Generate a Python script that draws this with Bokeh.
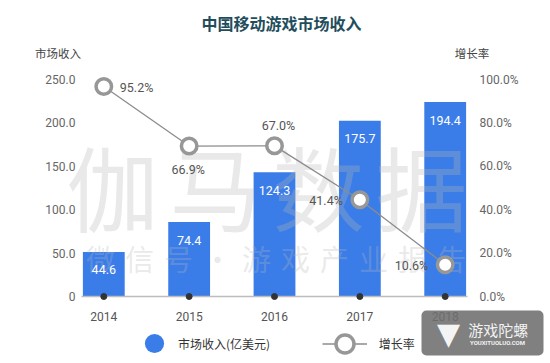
from bokeh.plotting import figure
from bokeh.models import (Range1d, LinearAxis, FixedTicker, CustomJSTickFormatter,
                          ColumnDataSource, Label, Legend, LegendItem, BoxAnnotation)
from bokeh.embed import file_html
from bokeh.resources import INLINE
from bokeh.core.properties import value

# ---------------- data ----------------
years = ["2014", "2015", "2016", "2017", "2018"]
revenue = [44.6, 74.4, 124.3, 175.7, 194.4]          # 市场收入(亿美元)
growth = [95.2, 66.9, 67.0, 41.4, 10.6]              # 增长率 (%)
revenue_ticks = [0, 50, 100, 150, 200, 250]
growth_ticks = [0, 20, 40, 60, 80, 100]
growth_label_side = ["right", "below", "above", "left", "left"]

title_text = "中国移动游戏市场收入"
left_title = "市场收入"
right_title = "增长率"
bar_legend = "市场收入(亿美元)"
line_legend = "增长率"
mark_big = "伽马数据"
mark_small = "微信号·游戏产业报告"

# ---------------- style / layout ----------------
CJK = "Noto Sans CJK SC"
NUM = "Roboto"
BAR = "#3a7de9"
W, H = 546, 361
PLOT_L, PLOT_R = 81, 467          # extent of the plotting area (px)
BASE = 296                        # baseline (px from top)
STEP = 85.35                      # px per category
FIRST = 103.3                     # px of first category centre
REV_PX = 217 / 250                # axis px per revenue tick unit
GR_PX = 217 / 100                 # axis px per growth tick unit

x_pos = list(range(len(years)))
x0 = -FIRST / STEP
x1 = x0 + W / STEP
xl = (PLOT_L - FIRST) / STEP
xr = (PLOT_R - FIRST) / STEP

p = figure(width=W, height=H, output_backend="svg", toolbar_location=None,
           x_range=Range1d(x0, x1), y_range=Range1d(-(H - BASE), BASE),
           x_axis_location=None, y_axis_location=None, min_border=0)
p.outline_line_color = None
p.background_fill_color = "white"
p.border_fill_color = "white"
for g in p.grid:
    g.visible = False
p.extra_y_ranges = {
    "rev_axis": Range1d(-(H - BASE) / REV_PX, BASE / REV_PX),
    "growth_axis": Range1d(-(H - BASE) / GR_PX, BASE / GR_PX),
    "growth": Range1d((-(H - BASE) - 9.5) / 2.107, (BASE - 9.5) / 2.107),
}

def style_axis(ax, standoff, color="#666666"):
    ax.axis_line_color = None
    ax.major_tick_line_color = None
    ax.minor_tick_line_color = None
    ax.major_tick_out = 0
    ax.major_tick_in = 0
    ax.minor_tick_out = 0
    ax.major_label_standoff = standoff
    ax.major_label_text_font = NUM
    ax.major_label_text_font_size = "12px"
    ax.major_label_text_color = color

left_ax = LinearAxis(y_range_name="rev_axis", ticker=FixedTicker(ticks=revenue_ticks),
                     fixed_location=xl,
                     formatter=CustomJSTickFormatter(code="return tick == 0 ? '0' : tick.toFixed(1);"))
style_axis(left_ax, 6)
p.add_layout(left_ax, "left")

right_ax = LinearAxis(y_range_name="growth_axis", ticker=FixedTicker(ticks=growth_ticks),
                      fixed_location=xr,
                      formatter=CustomJSTickFormatter(code="return tick.toFixed(1) + '%';"))
style_axis(right_ax, 12)
p.add_layout(right_ax, "right")

bottom_ax = LinearAxis(ticker=FixedTicker(ticks=x_pos), fixed_location=0, bounds=(xl, xr),
                       major_label_overrides={i: y for i, y in enumerate(years)})
style_axis(bottom_ax, 15, "#555555")
bottom_ax.axis_line_color = "#bdbdbd"
bottom_ax.axis_line_width = 1.5
p.add_layout(bottom_ax, "below")

# bars
p.vbar(x=x_pos, top=revenue, width=0.49, fill_color=BAR, line_color=None)

# watermarks (between bars and overlays)
for i, ch in enumerate(mark_big):
    p.add_layout(Label(x=112 + i * 103, y=184, x_units="canvas", y_units="canvas",
                       text=ch, text_align="center", text_baseline="middle",
                       text_font=CJK, text_font_size="92px", text_color="#b5b5b5",
                       text_alpha=0.3, level="glyph"), "center")
for i, ch in enumerate(mark_small):
    p.add_layout(Label(x=100 + i * 39, y=257, x_units="canvas", y_units="canvas",
                       text=ch, text_align="center", text_baseline="middle",
                       text_font=CJK, text_font_size="29px", text_color="#b5b5b5",
                       text_alpha=0.3, level="glyph"), "center")

# bar values
p.text(x=x_pos, y=revenue, text=[f"{v:.1f}" for v in revenue], text_color="white",
       text_align="center", text_baseline="middle", y_offset=18,
       text_font=value(NUM), text_font_size="12.5px", level="annotation")

# baseline dots
p.scatter(x=x_pos, y=[0] * len(x_pos), size=6, color="#333333", level="annotation")

# growth line
g_line = p.line(x=x_pos, y=growth, y_range_name="growth", line_color="#8c8c8c",
                line_width=1.3, level="annotation")
g_pts = p.scatter(x=x_pos, y=growth, y_range_name="growth", size=15.5,
                  fill_color="white", line_color="#979797", line_width=3.5,
                  level="annotation")

offsets = {"right": (16, 1, "left"), "below": (-1, 23, "center"),
           "above": (4, -20, "center"), "left": (-17, 1, "right")}
for side in ["right", "below", "above", "left"]:
    idx = [i for i, s in enumerate(growth_label_side) if s == side]
    if not idx:
        continue
    dx, dy, align = offsets[side]
    src = ColumnDataSource(dict(x=[x_pos[i] for i in idx], y=[growth[i] for i in idx],
                                t=[f"{growth[i]:.1f}%" for i in idx]))
    p.text(x="x", y="y", text="t", source=src, y_range_name="growth",
           x_offset=dx, y_offset=dy, text_align=align, text_baseline="middle",
           text_font=value(NUM), text_font_size="12.5px", text_color="#555555",
           level="annotation")

# titles
p.add_layout(Label(x=281, y=22, x_units="canvas", y_units="canvas", text=title_text,
                   text_align="center", text_baseline="middle", text_font=CJK,
                   text_font_size="16px", text_font_style="bold", text_color="#1f4d5c"), "center")
p.add_layout(Label(x=57.5, y=52, x_units="canvas", y_units="canvas", text=left_title,
                   text_align="center", text_baseline="middle", text_font=CJK,
                   text_font_size="11.5px", text_color="#444444"), "center")
p.add_layout(Label(x=471.5, y=52, x_units="canvas", y_units="canvas", text=right_title,
                   text_align="center", text_baseline="middle", text_font=CJK,
                   text_font_size="11.5px", text_color="#444444"), "center")

# legends (the bar series is keyed with a round swatch, as in the source chart)
swatch = p.scatter(x=x_pos[:1], y=[0], size=0, fill_color=BAR, line_color=None)
leg1 = Legend(items=[LegendItem(label=bar_legend, renderers=[swatch])],
              location=(130, -6.3), glyph_width=48, glyph_height=48, label_standoff=0,
              padding=0, margin=0, background_fill_alpha=0, border_line_alpha=0,
              label_text_font=CJK, label_text_font_size="12px", label_text_color="#333333")
leg2 = Legend(items=[LegendItem(label=line_legend, renderers=[g_line, g_pts])],
              location=(321.7, -4.8), glyph_width=45, glyph_height=45, label_standoff=12,
              padding=0, margin=0, background_fill_alpha=0, border_line_alpha=0,
              label_text_font=CJK, label_text_font_size="12px", label_text_color="#333333")
p.add_layout(leg1, "center")
p.add_layout(leg2, "center")

# site badge (bottom right)
p.add_layout(BoxAnnotation(left=421, right=543, top=310, bottom=355,
                           left_units="canvas", right_units="canvas",
                           top_units="canvas", bottom_units="canvas",
                           fill_color="#6e6e6e", fill_alpha=0.88, line_color=None,
                           border_radius=5))
p.add_layout(Label(x=448, y=333, x_units="canvas", y_units="canvas", text="▼",
                   text_align="center", text_baseline="middle", text_font="DejaVu Sans",
                   text_font_size="30px", text_color="#f4f4f4"), "center")
p.add_layout(Label(x=467.7, y=329, x_units="canvas", y_units="canvas", text="游戏陀螺",
                   text_align="left", text_baseline="middle", text_font=CJK,
                   text_font_size="15px", text_color="#f2f2f2"), "center")
p.add_layout(Label(x=497, y=341.7, x_units="canvas", y_units="canvas", text="YOUXITUOLUO.COM",
                   text_align="center", text_baseline="middle", text_font="Roboto",
                   text_font_size="6px", text_font_style="bold", text_color="#f2f2f2"), "center")

open("out.html", "w").write(file_html(p, INLINE))
